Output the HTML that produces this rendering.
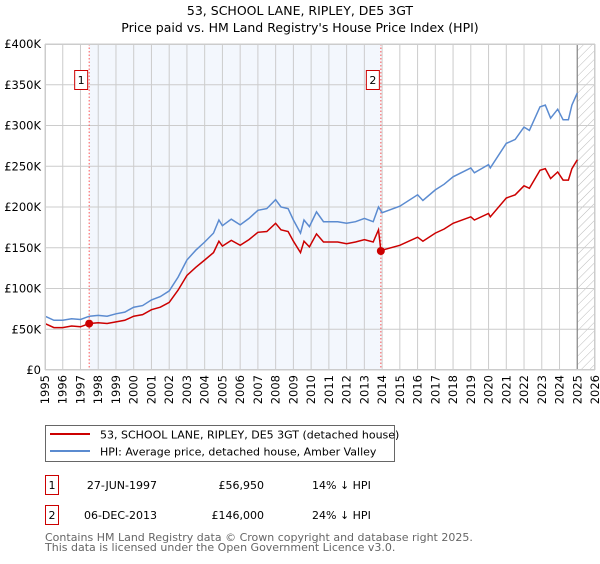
<!DOCTYPE html>
<html><head><meta charset="utf-8"><style>
body{margin:0;background:#fff;font-family:"DejaVu Sans","Liberation Sans",sans-serif;}
svg text{font-family:"DejaVu Sans","Liberation Sans",sans-serif;}
</style></head><body>
<svg id="chart" width="600" height="560" viewBox="0 0 600 560">
<defs>
<pattern id="hatch" width="6" height="6" patternUnits="userSpaceOnUse" patternTransform="rotate(45)">
<line x1="0" y1="0" x2="0" y2="6" stroke="#bbb" stroke-width="1"/></pattern>
<clipPath id="plotclip"><rect x="45" y="44" width="550" height="326"/></clipPath>
</defs>
<text x="300" y="15" text-anchor="middle" font-size="12.5">53, SCHOOL LANE, RIPLEY, DE5 3GT</text>
<text x="300" y="32" text-anchor="middle" font-size="12.5">Price paid vs. HM Land Registry's House Price Index (HPI)</text>
<g id="plot"></g>
<g>
<rect x="45.5" y="425.5" width="349" height="36" fill="#fff" stroke="#666"/>
<line x1="50" y1="434" x2="90" y2="434" stroke="#cc0000" stroke-width="2"/>
<text x="100" y="438.5" font-size="11">53, SCHOOL LANE, RIPLEY, DE5 3GT (detached house)</text>
<line x1="50" y1="451" x2="90" y2="451" stroke="#5b8bd0" stroke-width="2"/>
<text x="100" y="455.5" font-size="11">HPI: Average price, detached house, Amber Valley</text>
</g>
<g>
<rect x="45.5" y="475.5" width="13" height="19" fill="#fff" stroke="#cc0000"/>
<text x="52" y="489" text-anchor="middle" font-size="11">1</text>
<text x="157" y="489" text-anchor="end" font-size="11">27-JUN-1997</text>
<text x="264" y="489" text-anchor="end" font-size="11">£56,950</text>
<text x="312" y="489" font-size="11">14% ↓ HPI</text>
<rect x="45.5" y="505.5" width="13" height="19" fill="#fff" stroke="#cc0000"/>
<text x="52" y="519" text-anchor="middle" font-size="11">2</text>
<text x="157" y="519" text-anchor="end" font-size="11">06-DEC-2013</text>
<text x="264" y="519" text-anchor="end" font-size="11">£146,000</text>
<text x="312" y="519" font-size="11">24% ↓ HPI</text>
</g>
<text x="45" y="541" font-size="11" fill="#666">Contains HM Land Registry data © Crown copyright and database right 2025.</text>
<text x="45" y="551" font-size="11" fill="#666">This data is licensed under the Open Government Licence v3.0.</text>
</svg>
<script>
const hpiYears=[1995.0,1995.5,1996.0,1996.5,1997.0,1997.5,1998.0,1998.5,1999.0,1999.5,2000.0,2000.5,2001.0,2001.5,2002.0,2002.5,2003.0,2003.5,2004.0,2004.5,2004.8,2005.0,2005.5,2006.0,2006.5,2007.0,2007.5,2008.0,2008.3,2008.7,2009.0,2009.4,2009.6,2009.9,2010.3,2010.7,2011.5,2012.0,2012.5,2013.0,2013.5,2013.8,2014.0,2015.0,2016.0,2016.3,2017.0,2017.5,2018.0,2019.0,2019.2,2020.0,2020.1,2021.0,2021.5,2022.0,2022.3,2022.9,2023.2,2023.5,2023.9,2024.2,2024.5,2024.7,2025.0];
const hpiValues=[66,61,61,63,62,66,67,66,69,71,77,79,86,90,97,114,135,147,157,168,184,177,185,178,186,196,198,209,200,198,184,168,184,176,194,182,182,180,182,186,182,200,193,201,215,208,221,228,237,248,242,252,248,278,283,298,294,323,325,309,320,307,307,325,340];
const priceYears=[1995.0,1995.5,1996.0,1996.5,1997.0,1997.5,1998.0,1998.5,1999.0,1999.5,2000.0,2000.5,2001.0,2001.5,2002.0,2002.5,2003.0,2003.5,2004.0,2004.5,2004.8,2005.0,2005.5,2006.0,2006.5,2007.0,2007.5,2008.0,2008.3,2008.7,2009.0,2009.4,2009.6,2009.9,2010.3,2010.7,2011.5,2012.0,2012.5,2013.0,2013.5,2013.8,2013.93,2014.0,2015.0,2016.0,2016.3,2017.0,2017.5,2018.0,2019.0,2019.2,2020.0,2020.1,2021.0,2021.5,2022.0,2022.3,2022.9,2023.2,2023.5,2023.9,2024.2,2024.5,2024.7,2025.0];
const priceValues=[57,52,52,54,53,57,58,57,59,61,66,68,74,77,83,98,116,126,135,144,158,152,159,153,160,169,170,180,172,170,158,144,158,151,167,157,157,155,157,160,157,172,146,147,153,163,158,168,173,180,188,184,192,188,211,215,226,223,245,247,235,243,233,233,247,258];
const saleYears=[1997.49,2013.93];
const saleValues=[56.95,146];
const saleLabels=["1","2"];
const yTicks=[0,50,100,150,200,250,300,350,400];
const yTickLabels=["£0","£50K","£100K","£150K","£200K","£250K","£300K","£350K","£400K"];
const xTicks=[1995,1996,1997,1998,1999,2000,2001,2002,2003,2004,2005,2006,2007,2008,2009,2010,2011,2012,2013,2014,2015,2016,2017,2018,2019,2020,2021,2022,2023,2024,2025,2026];
const dataEndYear=2025.0;

const L=45,R=595,T=44,B=370;
const xS=y=>L+(y-1995)/(2026-1995)*(R-L);
const yS=v=>B-v/400*(B-T);
const NS="http://www.w3.org/2000/svg";
const g=document.getElementById('plot');
function mk(tag,attrs,parent){const e=document.createElementNS(NS,tag);for(const k in attrs)e.setAttribute(k,attrs[k]);(parent||g).appendChild(e);return e;}

let r=mk('rect',{x:xS(saleYears[0]),y:T,width:xS(saleYears[1])-xS(saleYears[0]),height:B-T,fill:'#eef3fc',opacity:0.7});


let h=mk('rect',{x:xS(dataEndYear),y:T,width:R-xS(dataEndYear),height:B-T,fill:'url(#hatch)'});



xTicks.forEach((yr,i)=>{
 const x=xS(yr);
 let l=mk('line',{x1:x,y1:T,x2:x,y2:B,stroke:'#ccc','stroke-width':1});
 
 
 let t=mk('text',{x:0,y:0,'font-size':11.5,'text-anchor':'end',transform:`translate(${x+4},${B+5}) rotate(-90)`});
 t.textContent=String(yr);
 
 
});
yTicks.forEach((v,i)=>{
 const y=yS(v);
 let l=mk('line',{x1:L,y1:y,x2:R,y2:y,stroke:'#ccc','stroke-width':1});
 
 
 let t=mk('text',{x:L-4,y:y+4,'font-size':11.5,'text-anchor':'end'});
 t.textContent=yTickLabels[i];
 
 
});
let ed=mk('line',{x1:xS(dataEndYear),y1:T,x2:xS(dataEndYear),y2:B,stroke:'#888','stroke-width':1.2});



saleYears.forEach((yr,i)=>{
 const x=xS(yr);
 let l=mk('line',{x1:x,y1:T,x2:x,y2:B,stroke:'#ff5555','stroke-width':1,'stroke-dasharray':'1.5,2'});
 
 
 let b=mk('rect',{x:x-14.5,y:70.5,width:13,height:19,fill:'#fff',stroke:'#cc0000'});
 
 
 let t=mk('text',{x:x-8,y:84,'font-size':11,'text-anchor':'middle'});
 t.textContent=saleLabels[i];
 
 
});

const pts=(xs,vs)=>xs.map((yr,i)=>xS(yr).toFixed(1)+','+yS(vs[i]).toFixed(1)).join(' ');
let hl=mk('polyline',{points:pts(hpiYears,hpiValues),fill:'none',stroke:'#5b8bd0','stroke-width':1.5,'clip-path':'url(#plotclip)'});


let pl=mk('polyline',{points:pts(priceYears,priceValues),fill:'none',stroke:'#cc0000','stroke-width':1.5,'clip-path':'url(#plotclip)'});


saleYears.forEach((yr,i)=>{
 let c=mk('circle',{cx:xS(yr),cy:yS(saleValues[i]),r:4,fill:'#cc0000'});
 
 
});
let fr=mk('rect',{x:L+0.5,y:T+0.5,width:R-L-1,height:B-T-1,fill:'none',stroke:'#ccc'});


</script>
</body></html>
